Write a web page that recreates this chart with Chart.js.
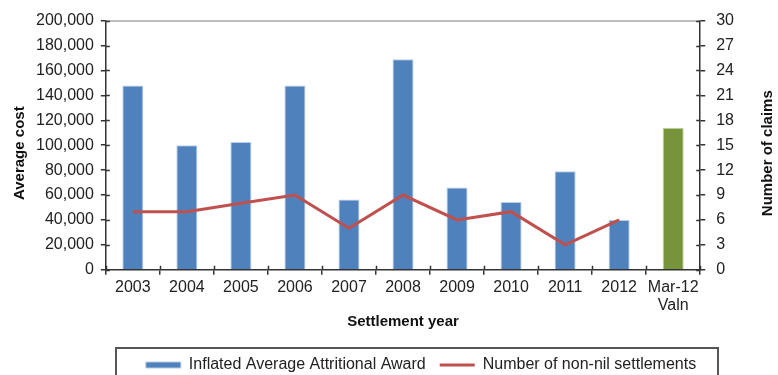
<!DOCTYPE html>
<html>
<head>
<meta charset="utf-8">
<script src="https://cdn.jsdelivr.net/npm/chart.js@4.4.0/dist/chart.umd.min.js"></script>
<style>
  html, body { margin: 0; padding: 0; background: #fff; }
  #wrap { width: 778px; height: 375px; overflow: hidden; }
</style>
</head>
<body>
<div id="wrap"><canvas id="chart" width="778" height="375"></canvas></div>
<script>
// data
let years = ['2003', '2004', '2005', '2006', '2007', '2008', '2009', '2010', '2011', '2012', ['Mar-12', 'Valn']];
let avgAward = [148000, 100000, 102500, 148000, 56500, 169000, 66000, 54500, 79000, 40000, null];
let valnAward = [null, null, null, null, null, null, null, null, null, null, 114000];
let nonNilSettlements = [7, 7, 8, 9, 5, 9, 6, 7, 3, 6, null];

let blue = '#4f81bd';
let red = '#c0504d';
let green = '#77933c';
let axisColor = '#333';

Chart.defaults.font.family = '"Liberation Sans", Arial, sans-serif';
Chart.defaults.font.size = 16;
Chart.defaults.color = '#222';

// short tick marks drawn inside the plot too, so they cross the axis lines,
// plus the thin grey line along the top and the two axis titles
let axisExtras = {
    id: 'axisExtras',
    afterDatasetsDraw(chart) {
        let ctx = chart.ctx;
        let area = chart.chartArea;
        let len = 4;
        ctx.save();
        ctx.strokeStyle = '#aaa';
        ctx.lineWidth = 1.5;
        ctx.beginPath();
        ctx.moveTo(area.left, area.top + 0.5);
        ctx.lineTo(area.right, area.top + 0.5);
        ctx.stroke();

        ctx.strokeStyle = axisColor;
        ctx.lineWidth = 1.5;
        ctx.beginPath();
        chart.scales.y.ticks.forEach(t => {
            let py = Math.round(chart.scales.y.getPixelForValue(t.value)) + 0.5;
            ctx.moveTo(area.left, py);
            ctx.lineTo(area.left + len, py);
        });
        chart.scales.y1.ticks.forEach(t => {
            let py = Math.round(chart.scales.y1.getPixelForValue(t.value)) + 0.5;
            ctx.moveTo(area.right, py);
            ctx.lineTo(area.right - len, py);
        });
        let x = chart.scales.x;
        let n = x.ticks.length;
        for (let i = 0; i <= n; i++) {
            let px;
            if (i === 0) px = area.left;
            else if (i === n) px = area.right;
            else px = (x.getPixelForTick(i - 1) + x.getPixelForTick(i)) / 2;
            px = Math.round(px) + 0.5;
            ctx.moveTo(px, area.bottom);
            ctx.lineTo(px, area.bottom - len);
        }
        ctx.stroke();

        // both y titles read bottom to top
        let midY = (area.top + area.bottom) / 2 + 8;
        ctx.fillStyle = '#111';
        ctx.font = 'bold 15px "Liberation Sans", Arial, sans-serif';
        ctx.textAlign = 'center';
        ctx.textBaseline = 'middle';
        [['Average cost', 20], ['Number of claims', chart.width - 10]].forEach(([txt, tx]) => {
            ctx.save();
            ctx.translate(tx, midY);
            ctx.rotate(-Math.PI / 2);
            ctx.fillText(txt, 0, 0);
            ctx.restore();
        });
        ctx.restore();
    }
};

// nudge the legend under the middle of the frame and draw the frame
let legendShift = 34;
let legendBox = {
    id: 'legendBox',
    afterLayout(chart) {
        chart.legend.left += legendShift;
        chart.legend.right += legendShift;
    },
    afterDraw(chart) {
        let lg = chart.legend;
        let boxes = lg.legendHitBoxes;
        if (!boxes || !boxes.length) return;
        let total = boxes.reduce((s, b) => s + b.width, 0) + lg.options.labels.padding * (boxes.length - 1);
        let mid = (lg.left + lg.right) / 2;
        let left = mid - total / 2 - 30;
        let right = mid + total / 2 + 22;
        let ctx = chart.ctx;
        ctx.save();
        ctx.strokeStyle = '#555';
        ctx.lineWidth = 2;
        ctx.strokeRect(Math.round(left), Math.round(lg.top + 5), Math.round(right - left), 60);
        ctx.restore();
    }
};

let chart = document.getElementById('chart').getContext('2d');
let claimsChart = new Chart(chart, {
    type: 'bar',
    data: {
        labels: years,
        datasets: [{
            label: 'Inflated Average Attritional Award',
            data: avgAward,
            backgroundColor: blue,
            borderColor: '#b9cde5',
            borderWidth: 1,
            barPercentage: 0.78,
            categoryPercentage: 0.5,
            grouped: false,
            pointStyle: 'rect',
            order: 2
        }, {
            label: 'Valn',
            data: valnAward,
            backgroundColor: green,
            borderColor: '#c3d69b',
            borderWidth: 1,
            barPercentage: 0.78,
            categoryPercentage: 0.5,
            grouped: false,
            order: 3
        }, {
            type: 'line',
            label: 'Number of non-nil settlements',
            data: nonNilSettlements,
            yAxisID: 'y1',
            borderColor: red,
            backgroundColor: red,
            borderWidth: 3,
            pointRadius: 0,
            pointStyle: 'line',
            tension: 0,
            order: 1
        }]
    },
    options: {
        responsive: false,
        animation: false,
        layout: { padding: { left: 29, right: 33, top: 17, bottom: -8 } },
        scales: {
            x: {
                grid: { display: true, drawOnChartArea: false, color: axisColor, lineWidth: 1.5, tickLength: 5 },
                border: { color: axisColor, width: 1.5 },
                ticks: { color: '#222', maxRotation: 0, autoSkip: false, padding: 4, font: { size: 16, lineHeight: 1.1 } },
                title: { display: true, text: 'Settlement year', font: { size: 15, weight: 'bold' }, color: '#111', padding: { top: -5, bottom: 12 } }
            },
            y: {
                min: 0,
                max: 200000,
                ticks: {
                    stepSize: 20000,
                    color: '#222',
                    padding: 7,
                    callback: v => v.toLocaleString('en-US')
                },
                grid: { drawOnChartArea: false, color: axisColor, lineWidth: 1.5, tickLength: 5 },
                border: { color: axisColor, width: 1.5 }
            },
            y1: {
                position: 'right',
                min: 0,
                max: 30,
                ticks: { stepSize: 3, color: '#222', padding: 11 },
                grid: { drawOnChartArea: false, color: axisColor, lineWidth: 1.5, tickLength: 5 },
                border: { color: axisColor, width: 1.5 }
            }
        },
        plugins: {
            legend: {
                position: 'bottom',
                labels: {
                    usePointStyle: true,
                    pointStyleWidth: 35,
                    boxHeight: 6,
                    color: '#222',
                    padding: 14,
                    font: { size: 16 },
                    filter: item => item.text !== 'Valn',
                    sort: (a, b) => a.datasetIndex - b.datasetIndex
                }
            },
            tooltip: { enabled: false }
        }
    },
    plugins: [axisExtras, legendBox]
});
</script>
</body>
</html>
